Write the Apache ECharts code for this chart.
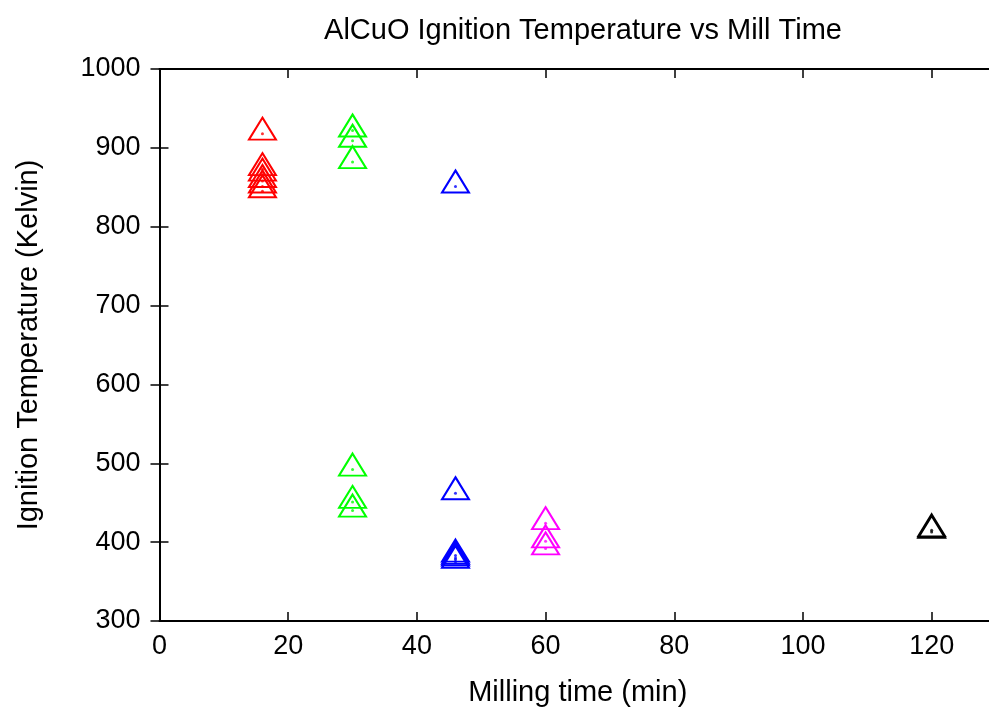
<!DOCTYPE html>
<html>
<head>
<meta charset="utf-8">
<script src="https://cdn.jsdelivr.net/npm/echarts@6/dist/echarts.min.js"></script>
<style>html,body{margin:0;padding:0;background:#fff;}#c{width:989px;height:711px;}</style>
</head>
<body>
<div id="c"></div>
<script>
// Data (milling time in minutes, ignition temperature in Kelvin)
const redTime = 16;
const redTemps = [918, 873, 866, 858, 851, 845];
const greenTime = 30;
const greenTemps = [922, 909, 882, 492, 451, 440];
const blueTime = 46;
const blueTemps = [851, 462, 383, 380, 378, 375];
const magentaTime = 60;
const magentaTemps = [424, 401, 392];
const blackTime = 120;
const blackTemps = [413, 415];

const xTicks = [0, 20, 40, 60, 80, 100, 120];
const yTicks = [300, 400, 500, 600, 700, 800, 900, 1000];

const groups = [
  {t: redTime, v: redTemps, c: '#ff0000'},
  {t: greenTime, v: greenTemps, c: '#00ff00'},
  {t: blueTime, v: blueTemps, c: '#0000ff'},
  {t: magentaTime, v: magentaTemps, c: '#ff00ff'},
  {t: blackTime, v: blackTemps, c: '#000000'}
];

const FONT = 'Liberation Sans';
const series = [];
groups.forEach(g => {
  const d = g.v.map(v => [g.t, v]);
  series.push({
    type: 'scatter', data: d, symbol: 'triangle', symbolSize: [27, 22], symbolOffset: [0, -5],
    itemStyle: {color: 'rgba(0,0,0,0)', borderColor: g.c, borderWidth: 2, opacity: 1},
    silent: true, animation: false
  });
  series.push({
    type: 'scatter', data: d, symbol: 'circle', symbolSize: 3,
    itemStyle: {color: g.c}, silent: true, animation: false
  });
});

const axisLine = {show: true, lineStyle: {color: '#000', width: 2}};
const axisTick = {show: true, inside: true, length: 9, lineStyle: {color: '#000', width: 1.5}};

const chart = echarts.init(document.getElementById('c'), null, {renderer: 'canvas'});
chart.setOption({
  animation: false,
  backgroundColor: '#fff',
  title: {
    text: 'AlCuO Ignition Temperature vs Mill Time',
    left: 578, top: 11, textAlign: 'center',
    textStyle: {fontFamily: FONT, fontSize: 29, fontWeight: 'normal', color: '#000'}
  },
  grid: {left: 159.5, top: 69, width: 836.5, height: 552, containLabel: false, outerBoundsMode: 'none'},
  xAxis: [{
    type: 'value', min: 0, max: 130, interval: 20, position: 'bottom',
    name: 'Milling time (min)', nameLocation: 'middle', nameGap: 57,
    nameTextStyle: {fontFamily: FONT, fontSize: 29, color: '#000'},
    axisLine, axisTick,
    axisLabel: {fontFamily: FONT, fontSize: 27, color: '#000', margin: 12,
      formatter: v => xTicks.includes(v) ? String(v) : ''},
    splitLine: {show: false}
  }, {
    type: 'value', min: 0, max: 130, interval: 20, position: 'top',
    axisLine, axisTick, axisLabel: {show: false}, splitLine: {show: false}
  }],
  yAxis: [{
    type: 'value', min: 300, max: 1000, interval: 100, position: 'left',
    name: 'Ignition Temperature (Kelvin)', nameLocation: 'middle', nameGap: 116, nameRotate: 90,
    nameTextStyle: {fontFamily: FONT, fontSize: 29, color: '#000'},
    axisLine, axisTick,
    axisLabel: {fontFamily: FONT, fontSize: 27, color: '#000', margin: 19,
      formatter: v => yTicks.includes(v) ? String(v) : ''},
    splitLine: {show: false}
  }, {
    type: 'value', min: 300, max: 1000, interval: 100, position: 'right',
    axisLine, axisTick, axisLabel: {show: false}, splitLine: {show: false}
  }],
  series
});
</script>
</body>
</html>
